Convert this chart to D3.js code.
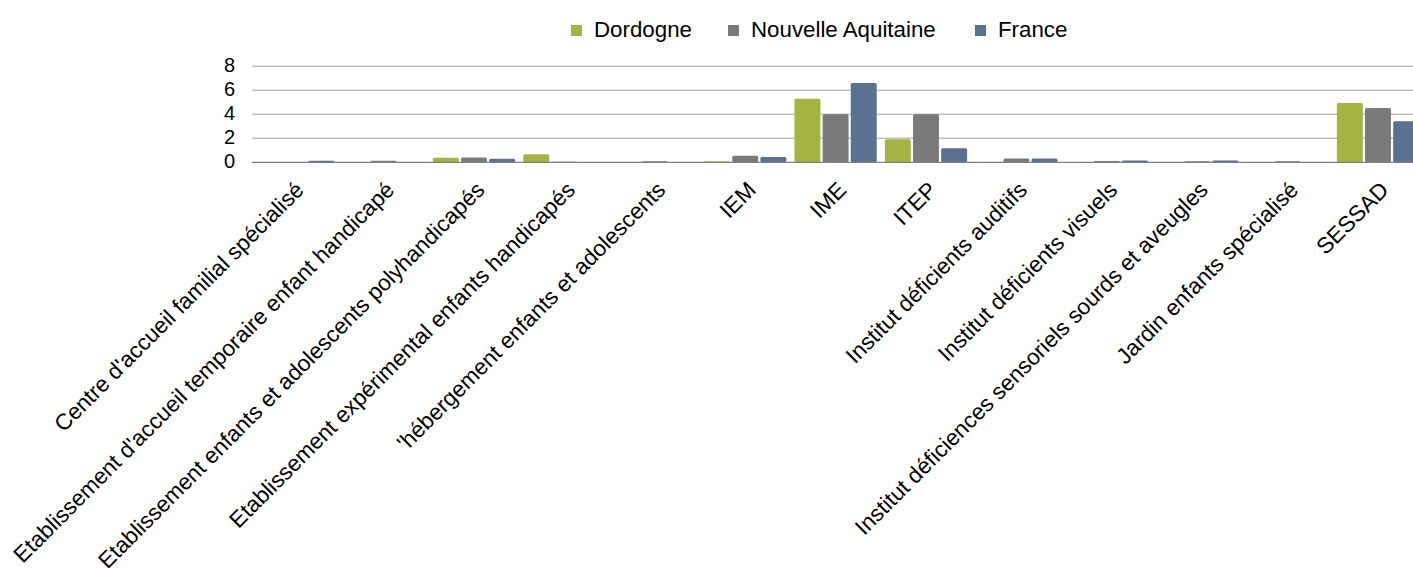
<!DOCTYPE html>
<html>
<head>
<meta charset="utf-8">
<script src="https://cdn.jsdelivr.net/npm/d3@7"></script>
<style>
  body { margin: 0; background: #fff; }
  svg { display: block; font-family: 'Liberation Sans', Arial, sans-serif; }
  .grid line { stroke: #bfbfbf; stroke-width: 1.4; }
</style>
</head>
<body>
<svg id="chart" width="1413" height="568"></svg>
<script>
// categories on the x axis
const categories = [
  "Centre d'accueil familial spécialisé",
  "Etablissement d'accueil temporaire enfant handicapé",
  "Etablissement enfants et adolescents polyhandicapés",
  "Etablissement expérimental enfants handicapés",
  "'hébergement enfants et adolescents",
  'IEM',
  'IME',
  'ITEP',
  'Institut déficients auditifs',
  'Institut déficients visuels',
  'Institut déficiences sensoriels sourds et aveugles',
  'Jardin enfants spécialisé',
  'SESSAD'
]

// series names
const seriesNames = ['Dordogne', 'Nouvelle Aquitaine', 'France']

// values
const dordogne = [0, 0, 0.38, 0.68, 0, 0.08, 5.3, 1.92, 0, 0, 0, 0, 4.94]
const nouvelleAquitaine = [0, 0.12, 0.4, 0.05, 0.08, 0.55, 4.0, 4.0, 0.32, 0.1, 0.08, 0.08, 4.52]
const france = [0.12, 0, 0.3, 0.02, 0.02, 0.45, 6.6, 1.17, 0.32, 0.14, 0.14, 0.02, 3.42]

const yTicks = [0, 2, 4, 6, 8]

const colors = ['#a6b343', '#7a7a7a', '#5b7191']

const rows = categories.map((c, i) => ({
  cat: c,
  values: [dordogne[i], nouvelleAquitaine[i], france[i]]
}))

const svg = d3.select('#chart')

// chart dimensions
const left = 252
const right = 1413
const x0 = d3.scaleBand()
  .domain(categories)
  .range([248, 248 + 13 * 90.4])
  .paddingInner(0.09)
  .paddingOuter(0.045)
const x1 = d3.scaleBand()
  .domain(seriesNames)
  .range([0, x0.bandwidth()])
  .paddingInner(0.078)
const y = d3.scaleLinear().domain([0, 8]).range([162.3, 66.3])

// gridlines
svg.append('g')
  .attr('class', 'grid')
  .selectAll('line')
  .data(yTicks.filter(d => d > 0))
  .join('line')
    .attr('x1', left)
    .attr('x2', right)
    .attr('y1', d => y(d))
    .attr('y2', d => y(d))

// y axis labels
const yAxis = d3.axisLeft(y).tickValues(yTicks).tickSize(0).tickPadding(0)
svg.append('g')
  .attr('transform', 'translate(235,0)')
  .call(yAxis)
  .call(g => g.select('.domain').remove())
  .selectAll('text')
    .attr('font-size', 20)
    .attr('font-family', "'Liberation Sans', Arial, sans-serif")
    .attr('fill', '#000')
    .attr('dy', '0.28em')

// bars
const groups = svg.append('g')
  .selectAll('g')
  .data(rows)
  .join('g')
    .attr('transform', d => 'translate(' + x0(d.cat) + ',0)')

groups.selectAll('rect')
  .data(d => d.values.map((v, k) => ({ key: seriesNames[k], v: v, k: k })))
  .join('rect')
    .attr('x', d => x1(d.key))
    .attr('width', x1.bandwidth())
    .attr('y', d => y(d.v))
    .attr('height', d => y(0) - y(d.v))
    .attr('rx', 1.5)
    .attr('fill', d => colors[d.k])

// zero line
svg.append('line')
  .attr('x1', left)
  .attr('x2', right)
  .attr('y1', y(0))
  .attr('y2', y(0))
  .attr('stroke', '#808080')
  .attr('stroke-width', 1.2)

// category labels, rotated
const xAxis = d3.axisBottom(x0).tickSize(0).tickPadding(0)
svg.append('g')
  .attr('transform', 'translate(0,' + y(0) + ')')
  .call(xAxis)
  .call(g => g.select('.domain').remove())
  .selectAll('text')
    .attr('font-size', 22.5)
    .attr('font-family', "'Liberation Sans', Arial, sans-serif")
    .attr('fill', '#000')
    .attr('text-anchor', 'end')
    .attr('dy', 0)
    .attr('transform', 'translate(12,29) rotate(-45)')

// legend
const legendX = [571, 728, 975]
const legend = svg.append('g')
  .selectAll('g')
  .data(seriesNames)
  .join('g')
    .attr('transform', (d, i) => 'translate(' + legendX[i] + ',25)')
legend.append('rect')
  .attr('width', 11)
  .attr('height', 11)
  .attr('fill', (d, i) => colors[i])
legend.append('text')
  .attr('x', 23)
  .attr('y', 11.5)
  .attr('font-size', 22.3)
  .attr('fill', '#000')
  .text(d => d)
</script>
</body>
</html>
